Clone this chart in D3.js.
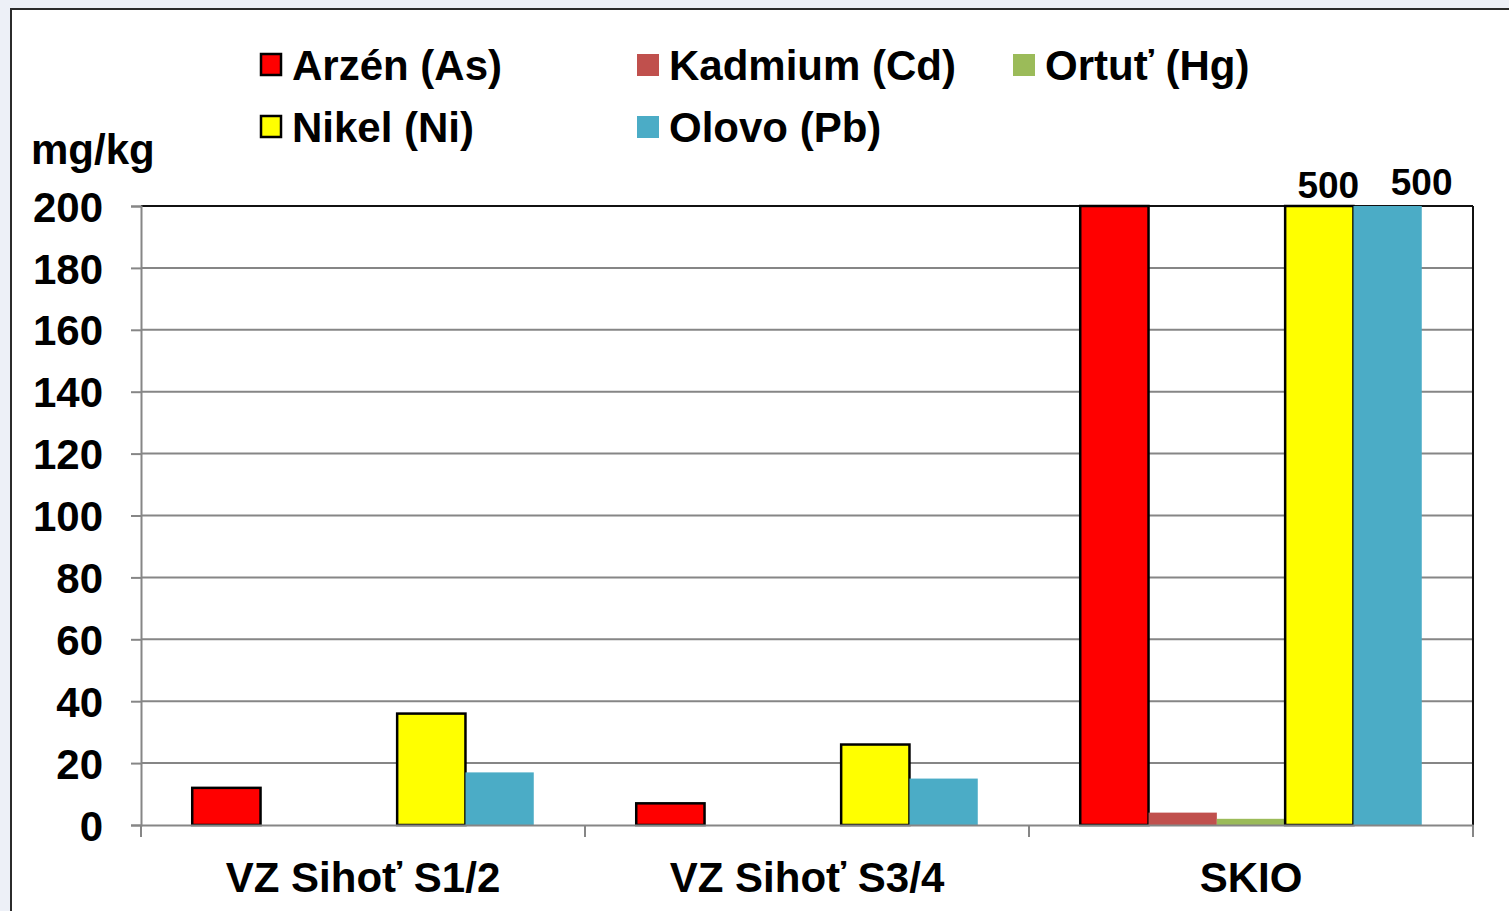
<!DOCTYPE html>
<html>
<head>
<meta charset="utf-8">
<script src="https://cdn.jsdelivr.net/npm/d3@7"></script>
<style>
  body { margin: 0; background: #edf0f7; }
  text { font-family: "Liberation Sans", Arial, sans-serif; font-weight: bold; }
</style>
</head>
<body>
<script>
var categories = ["VZ Sihoť S1/2", "VZ Sihoť S3/4", "SKIO"];
var seriesNames = ["Arzén (As)", "Kadmium (Cd)", "Ortuť (Hg)", "Nikel (Ni)", "Olovo (Pb)"];
var seriesColors = ["#ff0000", "#c0504d", "#9bbb59", "#ffff00", "#4bacc6"];
var seriesStroke = [true, false, false, true, false];
var arsenic = [12, 7, 200];
var cadmium = [0, 0, 4];
var mercury = [0, 0, 2];
var nickel = [36, 26, 500];
var lead = [17, 15, 500];
var yTicks = [0, 20, 40, 60, 80, 100, 120, 140, 160, 180, 200];

var values = [arsenic, cadmium, mercury, nickel, lead];

var w = 1509;
var h = 911;
var plotL = 141, plotR = 1473, plotT = 206, plotB = 825;
var fs = 42;
// label nudges for values above the axis max (excel style placement)
var overDx = [0, 0, 0, 9, 34];
var overDy = [-10, -10, -10, -8, -11];

var svg = d3.select("body")
  .append("svg")
  .attr("width", w)
  .attr("height", h)
  .style("display", "block");

// white panel with dark frame
svg.append("rect")
  .attr("x", 11)
  .attr("y", 9)
  .attr("width", w + 20)
  .attr("height", h + 20)
  .attr("fill", "#fff")
  .attr("stroke", "#2b2b2b")
  .attr("stroke-width", 2);

var x0 = d3.scaleBand()
  .domain(categories)
  .range([plotL, plotR]);

var x1 = d3.scaleBand()
  .domain(seriesNames)
  .range([0, x0.bandwidth()])
  .paddingOuter(0.75);

var y = d3.scaleLinear()
  .domain([0, 200])
  .range([plotB, plotT])
  .clamp(true);

// gridlines
svg.selectAll(".grid")
  .data(yTicks.slice(1))
  .enter()
  .append("line")
  .attr("class", "grid")
  .attr("x1", plotL)
  .attr("x2", plotR)
  .attr("y1", function(d) { return y(d); })
  .attr("y2", function(d) { return y(d); })
  .attr("stroke", "#868686")
  .attr("stroke-width", 2);

// plot border top and right
svg.append("line")
  .attr("x1", plotL).attr("x2", plotR)
  .attr("y1", plotT).attr("y2", plotT)
  .attr("stroke", "#111").attr("stroke-width", 2);
svg.append("line")
  .attr("x1", plotR).attr("x2", plotR)
  .attr("y1", plotT).attr("y2", plotB)
  .attr("stroke", "#111").attr("stroke-width", 2);

// y axis
var yAxis = d3.axisLeft(y)
  .tickValues(yTicks)
  .tickSize(10)
  .tickPadding(10);

var gy = svg.append("g")
  .attr("transform", "translate(" + plotL + ",0)")
  .call(yAxis);
gy.select(".domain").attr("stroke", "#868686").attr("stroke-width", 2);
gy.selectAll(".tick line").attr("stroke", "#868686").attr("stroke-width", 2);
gy.selectAll(".tick text")
  .attr("font-size", fs)
  .attr("fill", "#000")
  .attr("dy", "0.36em")
  .attr("x", -38);

// bars
var groups = svg.selectAll(".group")
  .data(categories)
  .enter()
  .append("g")
  .attr("class", "group")
  .attr("transform", function(d) { return "translate(" + x0(d) + ",0)"; });

groups.selectAll("rect")
  .data(function(d, ci) {
    return seriesNames.map(function(s, si) {
      return {series: s, si: si, value: values[si][ci]};
    }).filter(function(d) { return d.value > 0; });
  })
  .enter()
  .append("rect")
  .attr("x", function(d) { return x1(d.series); })
  .attr("y", function(d) { return y(d.value); })
  .attr("width", x1.bandwidth())
  .attr("height", function(d) { return plotB - y(d.value); })
  .attr("fill", function(d) { return seriesColors[d.si]; })
  .attr("stroke", function(d) { return seriesStroke[d.si] ? "#000" : "none"; })
  .attr("stroke-width", 2.5);

// labels for clipped values
groups.selectAll(".over")
  .data(function(d, ci) {
    return seriesNames.map(function(s, si) {
      return {series: s, si: si, value: values[si][ci]};
    }).filter(function(d) { return d.value > 200; });
  })
  .enter()
  .append("text")
  .attr("class", "over")
  .attr("x", function(d) { return x1(d.series) + x1.bandwidth() / 2 + overDx[d.si]; })
  .attr("y", function(d) { return plotT + overDy[d.si]; })
  .attr("text-anchor", "middle")
  .attr("font-size", 37)
  .text(function(d) { return d.value; });

// x axis
var xAxis = d3.axisBottom(x0).tickSize(0).tickPadding(37);
var gx = svg.append("g")
  .attr("transform", "translate(0," + plotB + ")")
  .call(xAxis);
gx.select(".domain").attr("stroke", "#868686").attr("stroke-width", 2);
gx.selectAll(".tick text")
  .attr("font-size", fs)
  .attr("fill", "#000");

// category separators
svg.selectAll(".sep")
  .data(categories.concat(["end"]))
  .enter()
  .append("line")
  .attr("class", "sep")
  .attr("x1", function(d, i) { return plotL + i * x0.step(); })
  .attr("x2", function(d, i) { return plotL + i * x0.step(); })
  .attr("y1", plotB)
  .attr("y2", plotB + 12)
  .attr("stroke", "#868686")
  .attr("stroke-width", 2);

// unit label
svg.append("text")
  .attr("x", 31)
  .attr("y", 164)
  .attr("font-size", fs)
  .text("mg/kg");

// legend
var legX = [260, 637, 1013];
var legY = [65, 127];
var legend = svg.selectAll(".legend")
  .data(seriesNames)
  .enter()
  .append("g")
  .attr("class", "legend")
  .attr("transform", function(d, i) {
    return "translate(" + legX[i % 3] + "," + legY[Math.floor(i / 3)] + ")";
  });

legend.append("rect")
  .attr("x", function(d, i) { return seriesStroke[i] ? 1 : 0; })
  .attr("y", -11)
  .attr("width", function(d, i) { return seriesStroke[i] ? 20 : 22; })
  .attr("height", function(d, i) { return seriesStroke[i] ? 21 : 22; })
  .attr("fill", function(d, i) { return seriesColors[i]; })
  .attr("stroke", function(d, i) { return seriesStroke[i] ? "#000" : "none"; })
  .attr("stroke-width", 2.5);

legend.append("text")
  .attr("x", 32)
  .attr("y", 15)
  .attr("font-size", fs)
  .text(function(d) { return d; });
</script>
</body>
</html>
